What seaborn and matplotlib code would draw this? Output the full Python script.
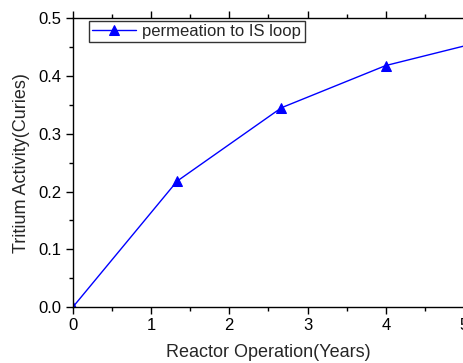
import numpy as np
import pandas as pd
import matplotlib
matplotlib.use("Agg")
import matplotlib.pyplot as plt
import seaborn as sns
from matplotlib.ticker import MultipleLocator

years = [0.0, 1.333, 2.667, 4.0, 5.333]
activity = [0.0, 0.218, 0.345, 0.418, 0.463]
series_name = "permeation to IS loop"

df = pd.DataFrame({"Years": years, "Curies": activity, "series": series_name})

sns.set_style("ticks")
plt.rcParams["font.family"] = ["Liberation Sans", "DejaVu Sans"]

fig = plt.figure(figsize=(4.64, 3.63), dpi=100)
ax = fig.add_axes([0.157, 0.154, 0.843, 0.796])

sns.lineplot(data=df, x="Years", y="Curies", hue="series", palette=["#0000ff"],
             marker="^", markersize=7, markeredgecolor="#0000ff", linewidth=1,
             ax=ax)

ax.set_xlim(0, 5)
ax.set_ylim(0, 0.5)
ax.xaxis.set_major_locator(MultipleLocator(1))
ax.xaxis.set_minor_locator(MultipleLocator(0.5))
ax.yaxis.set_major_locator(MultipleLocator(0.1))
ax.yaxis.set_minor_locator(MultipleLocator(0.05))
ax.yaxis.set_major_formatter(matplotlib.ticker.FormatStrFormatter("%.1f"))

for s in ["left", "bottom", "top"]:
    ax.spines[s].set_color("black")
    ax.spines[s].set_linewidth(1)
ax.spines["right"].set_visible(False)
ax.tick_params(which="both", direction="out", top=True, labeltop=False,
               color="black", width=1, labelsize=12, colors="black")
ax.tick_params(which="major", length=5, pad=3)
ax.tick_params(which="minor", length=3)

ax.set_xlabel("Reactor Operation(Years)", fontsize=13, labelpad=8)
ax.set_ylabel("Tritium Activity(Curies)", fontsize=13, labelpad=6)

leg = ax.legend(loc="upper left", bbox_to_anchor=(0.035, 1.0), fontsize=12,
                frameon=True, fancybox=False, borderpad=0.2, handlelength=2.6,
                handletextpad=0.4, borderaxespad=0.15)
leg.get_frame().set_edgecolor("black")
leg.get_frame().set_linewidth(1)
leg.set_title(None)

fig.savefig("out.png", dpi=100)
